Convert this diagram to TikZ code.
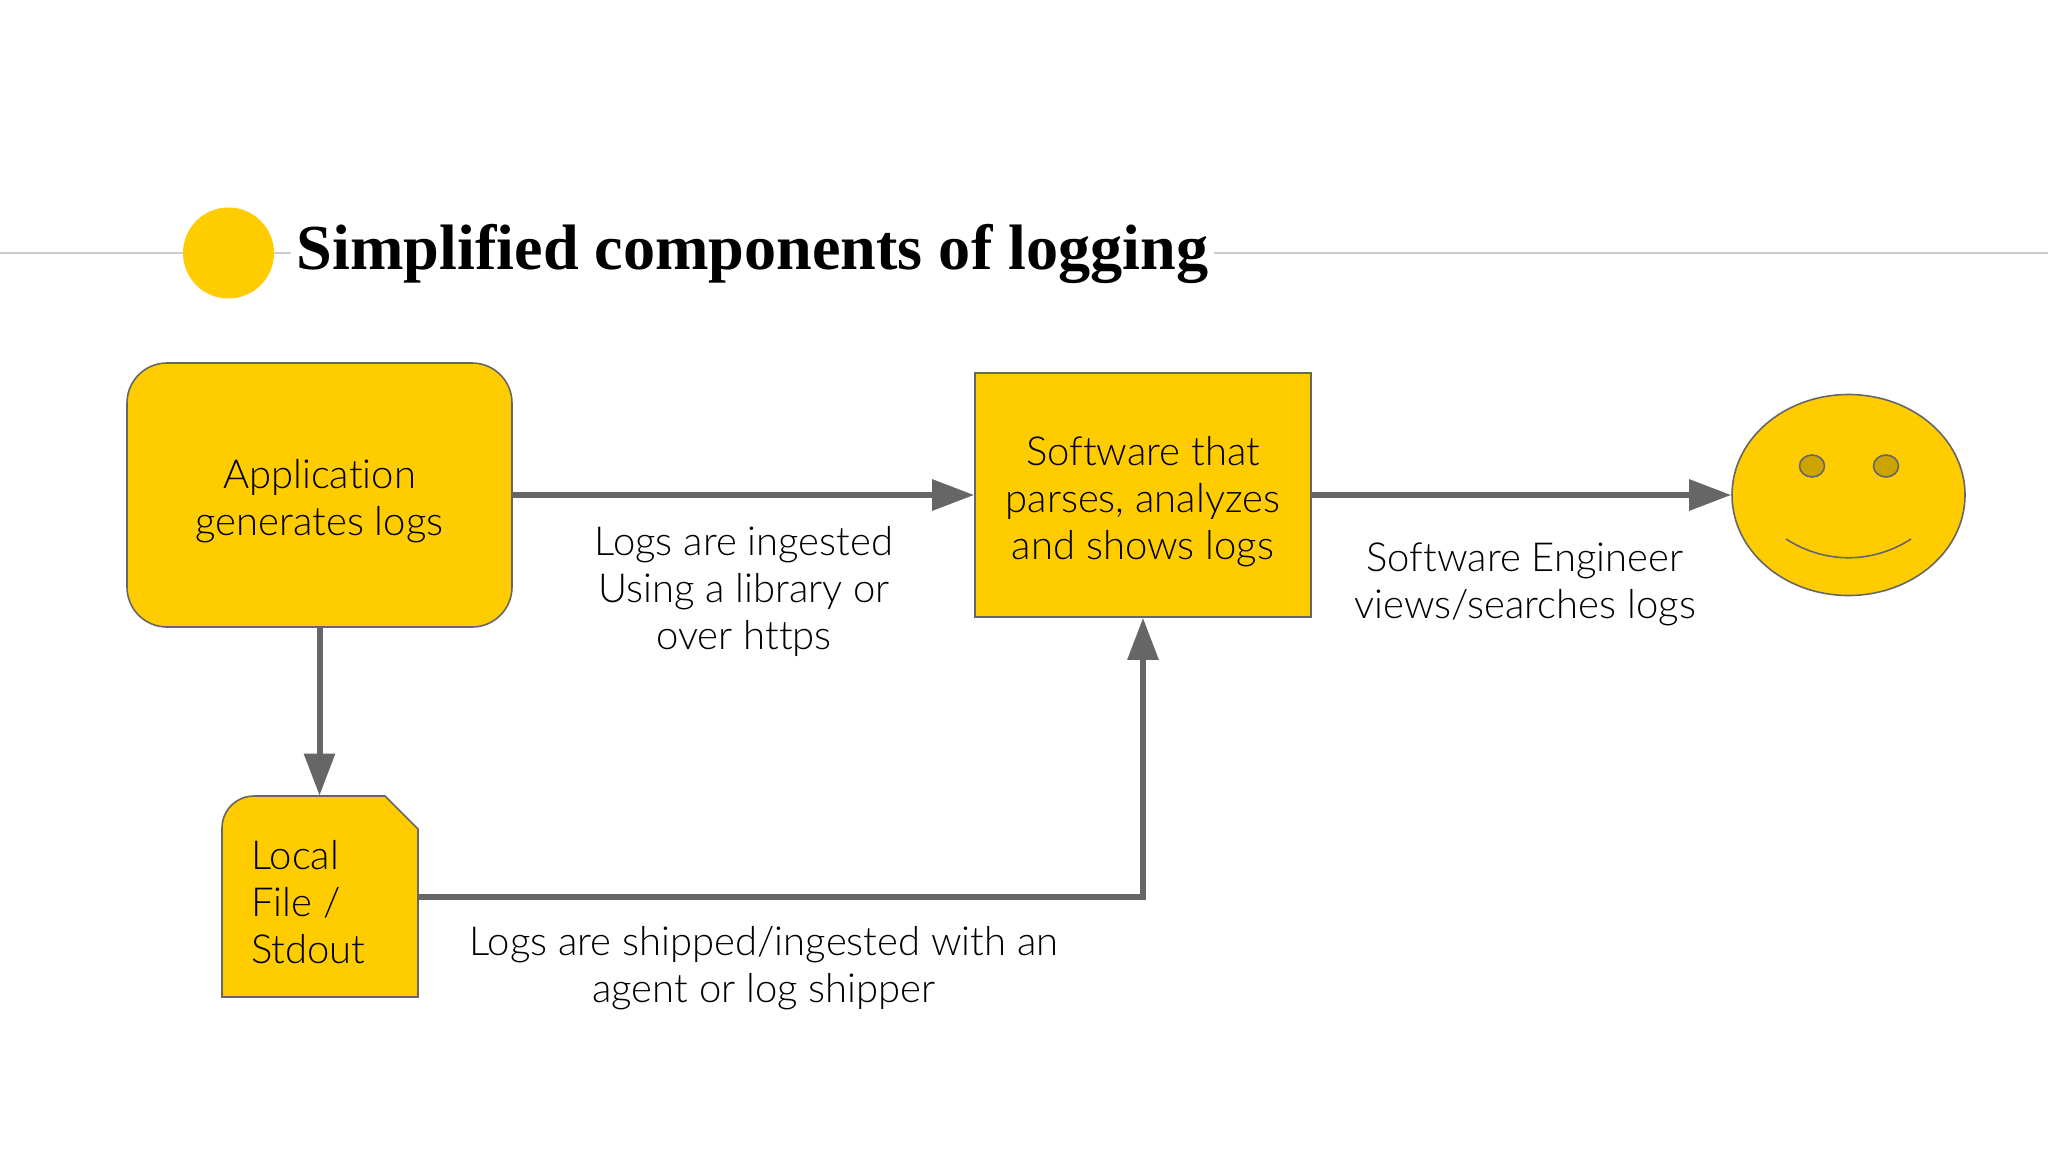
\documentclass[tikz,border=0pt]{standalone}
\usepackage{fontspec}
\setmainfont{Lato Light}[Ligatures=NoCommon]
\newfontfamily\titlefont{Liberation Serif}
\usetikzlibrary{arrows.meta,shapes.geometric}
\definecolor{boxfill}{HTML}{FFCC00}
\definecolor{boxline}{HTML}{666666}
\definecolor{conn}{HTML}{666666}
\definecolor{rulec}{HTML}{CCCCCC}
\definecolor{eyec}{HTML}{CCA300}
\tikzset{
  x=0.5pt,y=-0.5pt,
  shapebox/.style={draw=boxline,fill=boxfill,line width=0.8pt,inner sep=0pt},
  txt/.style={align=center,inner sep=0pt,text=black,font=\fontsize{20}{23.5}\selectfont},
  flow/.style={draw=conn,line width=3pt,-{Triangle[length=21pt,width=15pt]}},
}
\begin{document}
\begin{tikzpicture}
\useasboundingbox (0,0) rectangle (2048,1152);
\fill[white] (0,0) rectangle (2048,1152);
\draw[rulec,line width=0.8pt] (0,253) -- (2048,253);
\node[fill=boxfill,circle,minimum size=45.5pt,inner sep=0pt] (dot) at (228.5,253) {};
\node[fill=white,inner sep=3pt,anchor=west,font=\titlefont\bfseries\fontsize{32.1}{38}\selectfont] (title) at (290.5,254) {Simplified components of logging};

\node[shapebox,rounded corners=20pt,minimum width=192.5pt,minimum height=132pt] (app) at (319.5,495) {};
\node[txt] (apptext) at (319.5,501) {Application\\generates logs};
\node[shapebox,minimum width=168pt,minimum height=122pt] (soft) at (1143,495) {};
\node[txt] (softtext) at (1143,501.5) {Software that\\parses, analyzes\\and shows logs};
\node[shapebox,ellipse,minimum width=116.5pt,minimum height=100.5pt] (face) at (1848.5,495) {};
\node[minimum width=98pt,minimum height=100.5pt,inner sep=0pt] (file) at (319.5,896.5) {};
\draw[shapebox,line join=miter] (222,997) -- (222,828) arc[start angle=180,end angle=90,radius=16pt] -- (385,796) -- (418,829) -- (418,997) -- cycle;
\node[txt,anchor=west,align=left] (filetext) at (251,902) {Local\\File /\\Stdout};

% face details
\node[shapebox,fill=eyec,ellipse,minimum width=12.5pt,minimum height=11pt] (eyeL) at (1812,466) {};
\node[shapebox,fill=eyec,ellipse,minimum width=12.5pt,minimum height=11pt] (eyeR) at (1886,466) {};
\coordinate (smileL) at (1786,539);
\coordinate (smileR) at (1911,539);
\draw[boxline,line width=0.8pt] (smileL) .. controls (1825,564) and (1872,564) .. (smileR);

% connectors
\draw[flow] (app.east) -- (soft.west);
\draw[flow] (soft.east) -- (face.west);
\draw[flow] (app.south) -- (file.north);
\draw[flow] (file.east) -| (soft.south);

% labels
\node[txt] (lab1) at (744,591) {Logs are ingested\\Using a library or\\over https};
\node[txt] (lab2) at (1525,584.5) {Software Engineer\\views/searches logs};
\node[txt] (lab3) at (764,968.5) {Logs are shipped/ingested with an\\agent or log shipper};
\end{tikzpicture}
\end{document}
